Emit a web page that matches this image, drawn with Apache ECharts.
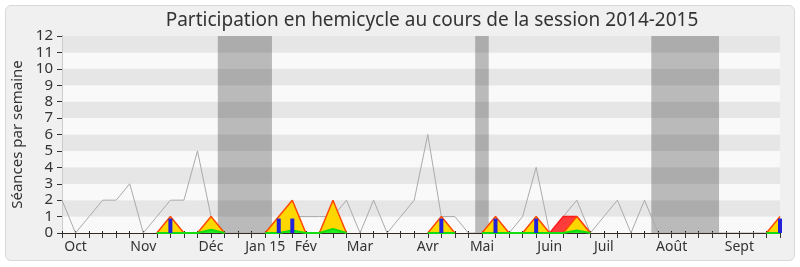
<!DOCTYPE html>
<html>
<head>
<meta charset="utf-8">
<script src="https://cdn.jsdelivr.net/npm/echarts@6/dist/echarts.min.js"></script>
<style>
  html, body { margin: 0; padding: 0; background: #ffffff; }
  #frame { position: absolute; left: 5px; top: 5px; width: 788px; height: 254px;
           border: 1px solid #d9d9d9; border-radius: 6px; background: #f0f0f0; }
  #chart { position: absolute; left: 0; top: 0; width: 800px; height: 267px; }
</style>
</head>
<body>
<div id="frame"></div>
<div id="chart"></div>
<script>
// Weeks of the 2014-2015 session, index 0 = last week of September 2014
const monthTicks = [1, 6, 11, 15, 18, 22, 27, 31, 36, 40, 45, 50];
const monthNames = ['Oct', 'Nov', 'Déc', 'Jan 15', 'Fév', 'Mar', 'Avr', 'Mai', 'Juin', 'Juil', 'Août', 'Sept'];

// Sessions held in the chamber each week
const seancesTotal = [2, 0, 1, 2, 2, 3, 0, 1, 2, 2, 5, 1, 0, 0, 0, 0, 1, 1, 1, 1,
                      1, 2, 0, 2, 0, 1, 2, 6, 1, 1, 0, 0, 1, 0, 1, 4, 0, 1, 2, 0,
                      1, 2, 0, 2, 0, 0, 0, 0, 0, 0, 0, 0, 0, 0];

// Weeks with presence in the chamber (null = no activity recorded)
const presence = [null, null, null, null, null, null, null, 0, 1, 0, 0, 1, 0, null, null, 0, 1, 2, 0, 0,
                  2, 0, null, null, null, null, null, 0, 1, 0, null, 0, 1, 0, 0, 1, 0, 0, 1, 0,
                  null, null, null, null, null, null, null, null, null, null, null, null, 0, 1];

// Weeks with presence in committee
const commission = [null, null, null, null, null, null, null, null, null, null, null, null, null, null, null, null, null, null, null, null,
                    null, null, null, null, null, null, null, null, null, null, null, null, null, null, null, null, 0, 1, 1, 0,
                    null, null, null, null, null, null, null, null, null, null, null, null, null, null];

// Interventions (only during weeks of presence)
const interventions = [null, null, null, null, null, null, null, 0, 0, 0, 0, 0.2, 0, null, null, 0, 0, 0.15, 0, 0,
                       0.25, 0, null, null, null, null, null, 0, 0, 0, null, 0, 0, 0, 0, 0, 0, 0, 0.15, 0,
                       null, null, null, null, null, null, null, null, null, null, null, null, 0, 0];

// Oral questions
const questions = [null, null, null, null, null, null, null, null, 0.88, null, null, null, null, null, null, null, 0.88, 0.88, null, null,
                   null, null, null, null, null, null, null, null, 0.88, null, null, null, 0.88, null, null, 0.88, null, null, null, null,
                   null, null, null, null, null, null, null, null, null, null, null, null, null, 0.88];

// Recess periods (first week, last week)
const vacances = [[12, 15], [31, 31], [44, 48]];

const FONT = 'Noto Sans';
const pairs = arr => arr.map((v, i) => [i, v]);
const lastWeek = seancesTotal.length - 1;

const chart = echarts.init(document.getElementById('chart'), null, { renderer: 'canvas' });

chart.setOption({
  animation: false,
  backgroundColor: 'transparent',
  title: {
    text: 'Participation en hemicycle au cours de la session 2014-2015',
    left: 427,
    textAlign: 'center',
    top: 6,
    textStyle: { fontFamily: FONT, fontSize: 19, fontWeight: 'normal', color: '#333333' }
  },
  grid: { left: 62, right: 20, top: 36, bottom: 34 },
  xAxis: [
    {
      type: 'value', min: 0, max: lastWeek, interval: 1, z: 3,
      axisLine: { show: true, lineStyle: { color: '#3a2622', width: 1 } },
      axisTick: { show: true, length: 5, lineStyle: { color: '#333333' } },
      axisLabel: {
        margin: 7, fontFamily: FONT, fontSize: 14, color: '#333333',
        formatter: v => { const k = monthTicks.indexOf(v); return k >= 0 ? monthNames[k] : ''; }
      },
      splitLine: { show: false }
    },
    {
      type: 'value', position: 'top', min: 0, max: lastWeek, interval: 1,
      axisLine: { show: false },
      axisTick: { show: true, length: 2, lineStyle: { color: '#222222' } },
      axisLabel: { show: false },
      splitLine: { show: false }
    }
  ],
  yAxis: [
    {
      type: 'value', min: 0, max: 12, interval: 1,
      name: 'Séances par semaine', nameLocation: 'middle', nameGap: 37,
      nameTextStyle: { fontFamily: FONT, fontSize: 15, color: '#333333' },
      axisLine: { show: true, lineStyle: { color: '#333333' } },
      axisTick: { show: true, length: 5, lineStyle: { color: '#333333' } },
      axisLabel: { margin: 9, fontFamily: FONT, fontSize: 15, color: '#333333' },
      splitLine: { show: false },
      splitArea: { show: true, areaStyle: { color: ['#f9f9f9', '#e6e6e6'] } }
    },
    {
      type: 'value', position: 'right', min: 0, max: 12, interval: 1,
      axisLine: { show: true, lineStyle: { color: '#cccccc' } },
      axisTick: { show: false }, axisLabel: { show: false },
      splitLine: { show: false }, splitArea: { show: false }
    }
  ],
  series: [
    {
      name: 'Séances', type: 'line', z: 1, data: pairs(seancesTotal), symbol: 'none',
      lineStyle: { color: '#aaaaaa', width: 1 },
      markArea: {
        silent: true,
        itemStyle: { color: 'rgba(0,0,0,0.25)' },
        data: vacances.map(([a, b]) => [{ xAxis: a - 0.5 }, { xAxis: b + 0.5 }])
      }
    },
    {
      name: 'Commission', type: 'line', z: 2, data: pairs(commission), symbol: 'none',
      connectNulls: false,
      lineStyle: { color: '#ff1a1a', width: 1.5 },
      areaStyle: { color: '#ff3c3c', opacity: 1 }
    },
    {
      name: 'Présence', type: 'line', z: 3, data: pairs(presence), symbol: 'none',
      connectNulls: false,
      lineStyle: { color: '#ff4800', width: 1.5 },
      areaStyle: { color: '#ffd700', opacity: 1 }
    },
    {
      name: 'Interventions', type: 'line', z: 4, data: pairs(interventions), symbol: 'none',
      connectNulls: false,
      lineStyle: { color: '#11dd11', width: 2 },
      areaStyle: { color: '#22ee22', opacity: 1 }
    },
    {
      name: 'Questions', type: 'bar', xAxisIndex: 0, yAxisIndex: 0, z: 5,
      data: pairs(questions).filter(d => d[1] !== null),
      barWidth: 4,
      itemStyle: { color: '#2222dd' }
    }
  ]
});
</script>
</body>
</html>
